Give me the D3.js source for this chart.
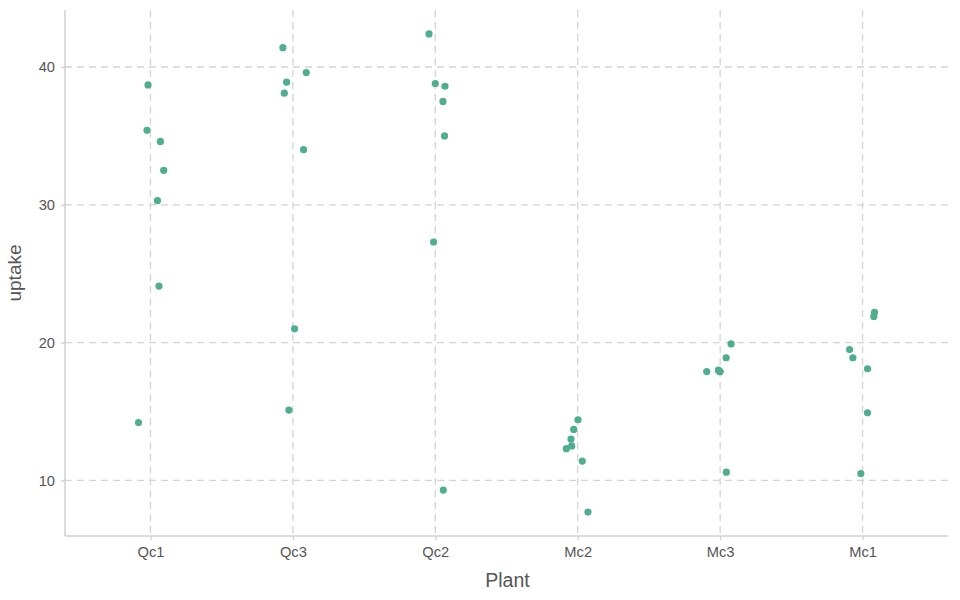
<!DOCTYPE html>
<html><head><meta charset="utf-8">
<script src="https://cdn.jsdelivr.net/npm/d3@7"></script>
<style>body{margin:0;background:#fff}svg{display:block}</style>
</head><body>
<svg id="c" width="960" height="600"></svg>
<script>
const plants = ["Qc1","Qc3","Qc2","Mc2","Mc3","Mc1"];
const uptakeQc1 = [38.7,35.4,34.6,32.5,30.3,24.1,14.2];
const jitterQc1 = [-0.017,-0.024,0.07,0.093,0.049,0.06,-0.084];
const uptakeQc3 = [41.4,39.6,38.9,38.1,34.0,21.0,15.1];
const jitterQc3 = [-0.07,0.094,-0.044,-0.06,0.075,0.012,-0.028];
const uptakeQc2 = [42.4,38.8,38.6,37.5,35.0,27.3,9.3];
const jitterQc2 = [-0.044,0.0,0.068,0.054,0.065,-0.012,0.056];
const uptakeMc2 = [14.4,13.7,13.0,12.5,12.3,11.4,7.7];
const jitterMc2 = [0.002,-0.028,-0.047,-0.042,-0.08,0.032,0.072];
const uptakeMc3 = [19.9,18.9,18.0,17.9,17.9,17.9,10.6];
const jitterMc3 = [0.077,0.042,-0.012,0.0,-0.003,-0.094,0.044];
const uptakeMc1 = [22.2,21.9,19.5,18.9,18.1,14.9,10.5];
const jitterMc1 = [0.084,0.079,-0.091,-0.068,0.035,0.035,-0.012];
const yTicks = [10,20,30,40];

const uptakes = [uptakeQc1,uptakeQc3,uptakeQc2,uptakeMc2,uptakeMc3,uptakeMc1];
const jitters = [jitterQc1,jitterQc3,jitterQc2,jitterMc2,jitterMc3,jitterMc1];
const points = [];
plants.forEach((p,i)=>uptakes[i].forEach((v,j)=>points.push({plant:i,jit:jitters[i][j],uptake:v})));

const L=65,R=948,T=10,B=536;
const FONT="Liberation Sans, Arial, sans-serif";
const svg = d3.select("#c");
const x = d3.scaleLinear().domain([-0.6,5.6]).range([L,R]);
const ymin = d3.min(points,d=>d.uptake), ymax = d3.max(points,d=>d.uptake);
const pad=(ymax-ymin)*0.05;
const y = d3.scaleLinear().domain([ymin-pad,ymax+pad]).range([B,T]);

const grid="#d4d4d4";
svg.append("g").selectAll("line").data(yTicks).join("line")
  .attr("x1",L).attr("x2",R).attr("y1",d=>y(d)).attr("y2",d=>y(d))
  .attr("stroke",grid).attr("stroke-width",1.3).attr("stroke-dasharray","7,5");
svg.append("g").selectAll("line").data(plants).join("line")
  .attr("x1",(d,i)=>x(i)).attr("x2",(d,i)=>x(i)).attr("y1",T).attr("y2",B)
  .attr("stroke",grid).attr("stroke-width",1.3).attr("stroke-dasharray","7,5");

const xa = d3.axisBottom(d3.scalePoint().domain(plants).range([x(0),x(5)])).tickSize(4).tickPadding(6.5);
const ya = d3.axisLeft(y).tickValues(yTicks).tickSize(4).tickPadding(6);
const gx = svg.append("g").attr("transform",`translate(0,${B})`).call(xa);
const gy = svg.append("g").attr("transform",`translate(${L},0)`).call(ya);
[gx,gy].forEach(g=>{
  g.select(".domain").remove();
  g.selectAll(".tick line").attr("stroke","#cfcfcf").attr("stroke-width",1.3);
  g.selectAll("text").attr("fill","#555").attr("font-size",14.7).attr("font-family",FONT);
});
svg.append("line").attr("x1",L).attr("x2",L).attr("y1",T).attr("y2",B).attr("stroke","#d0d0d0").attr("stroke-width",1.5);
svg.append("line").attr("x1",L).attr("x2",R).attr("y1",B).attr("y2",B).attr("stroke","#d0d0d0").attr("stroke-width",1.5);

svg.append("g").selectAll("circle").data(points).join("circle")
  .attr("cx",d=>x(d.plant+d.jit)).attr("cy",d=>y(d.uptake)).attr("r",3.6)
  .attr("fill","#4fae8e");

svg.append("text").attr("x",(L+R)/2+1).attr("y",586.5).attr("text-anchor","middle")
  .attr("font-size",19.5).attr("fill","#555").attr("font-family",FONT).text("Plant");
svg.append("text").attr("transform",`translate(21,${(T+B)/2}) rotate(-90)`).attr("text-anchor","middle")
  .attr("font-size",19).attr("fill","#555").attr("font-family",FONT).text("uptake");
</script>
</body></html>
